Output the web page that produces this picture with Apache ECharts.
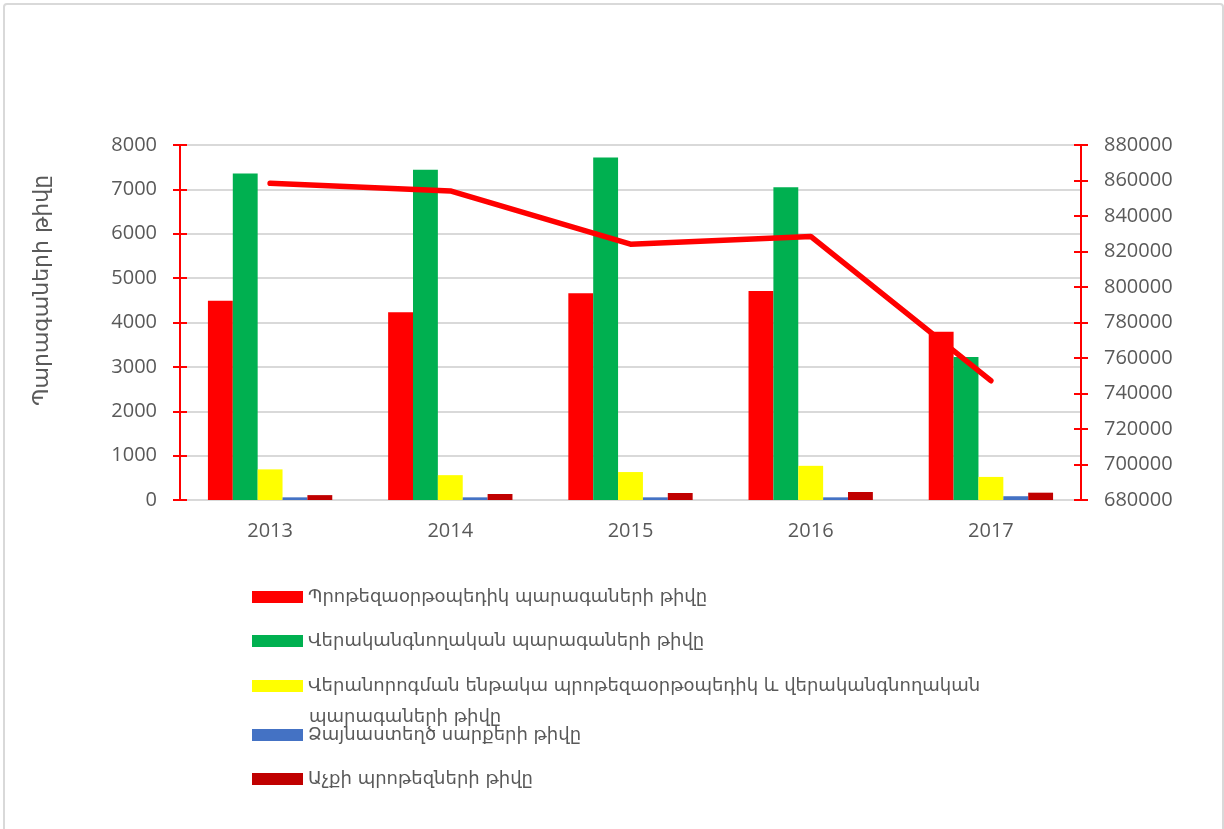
<!DOCTYPE html>
<html>
<head>
<meta charset="utf-8">
<style type="text/css">
    html, body{
        margin:0;
        padding:0;
        background:#fff;
    }
    #chart{
        width:1224px;
        height:829px;
    }
</style>
<script src="https://cdn.jsdelivr.net/npm/echarts@6/dist/echarts.min.js"></script>
</head>
<body>
<div id="chart"></div>
<script type="text/javascript">
    // տարիներ
    var years = ['2013', '2014', '2015', '2016', '2017'];
    var seriesNames = [
        'Պրոթեզաօրթօպեդիկ պարագաների թիվը',
        'Վերականգնողական պարագաների թիվը',
        'Վերանորոգման ենթակա պրոթեզաօրթօպեդիկ և վերականգնողական պարագաների թիվը',
        'Ձայնաստեղծ սարքերի թիվը',
        'Աչքի պրոթեզների թիվը'
    ];
    var prostheticValues = [4490, 4230, 4660, 4710, 3790];
    var rehabValues = [7360, 7440, 7720, 7050, 3220];
    var repairValues = [690, 560, 630, 770, 520];
    var soundValues = [60, 60, 60, 60, 85];
    var eyeValues = [110, 135, 158, 180, 165];
    var lineValues = [858400, 854100, 824100, 828500, 747200];

    var barColors = ['#FF0000', '#00B050', '#FFFF00', '#4472C4', '#C00000'];
    var barData = [prostheticValues, rehabValues, repairValues, soundValues, eyeValues];
    var legendTops = [587, 631, 676, 725, 769];

    var gray = '#595959';
    var numFont = 'Open Sans';
    var textFont = 'DejaVu Sans';

    var chart = echarts.init(document.getElementById('chart'), null, {renderer: 'canvas'});

    var plain = function (v) { return String(v); };

    var series = [];
    var legends = [];
    for (var i = 0; i < seriesNames.length; i++) {
        series.push({
            name: seriesNames[i],
            type: 'bar',
            yAxisIndex: 0,
            barGap: '0%',
            barCategoryGap: '31%',
            itemStyle: {color: barColors[i]},
            data: barData[i]
        });
        legends.push({
            data: [seriesNames[i]],
            orient: 'vertical',
            left: 252,
            top: legendTops[i],
            padding: 0,
            itemWidth: 51,
            itemHeight: 12,
            itemGap: 6,
            icon: 'rect',
            selectedMode: false,
            formatter: function (name) {
                // 3-րդ տողը կտրվում է
                if (name === seriesNames[2]) {
                    return 'Վերանորոգման ենթակա պրոթեզաօրթօպեդիկ և վերականգնողական';
                }
                return name;
            },
            textStyle: {
                color: gray,
                fontFamily: textFont,
                fontSize: 18,
                lineHeight: 20
            }
        });
    }
    series.push({
        name: 'total',
        type: 'line',
        yAxisIndex: 1,
        symbol: 'none',
        z: 5,
        lineStyle: {color: '#FF0000', width: 5.5, cap: 'round', join: 'round'},
        data: lineValues
    });

    var option = {
        backgroundColor: '#fff',
        animation: false,
        legend: legends,
        grid: {
            left: 180,
            right: 143,
            top: 145,
            bottom: 329
        },
        graphic: [
            {
                type: 'rect',
                shape: {x: 4, y: 4, width: 1219, height: 840, r: 3},
                style: {fill: 'none', stroke: '#D9D9D9', lineWidth: 2},
                silent: true
            },
            {
                type: 'text',
                left: 309,
                top: 708,
                style: {
                    text: 'պարագաների թիվը',
                    fill: gray,
                    font: '18px "DejaVu Sans"'
                },
                silent: true
            }
        ],
        xAxis: {
            type: 'category',
            data: years,
            axisLine: {lineStyle: {color: '#D9D9D9', width: 2}},
            axisTick: {show: false},
            axisLabel: {
                color: gray,
                fontFamily: numFont,
                fontSize: 20,
                margin: 21
            }
        },
        yAxis: [
            {
                type: 'value',
                min: 0,
                max: 8000,
                interval: 1000,
                position: 'left',
                name: 'Պարագաների թիվը',
                nameLocation: 'middle',
                nameGap: 127,
                nameTextStyle: {
                    color: gray,
                    fontFamily: textFont,
                    fontSize: 22,
                    padding: [0, 0, 0, 64]
                },
                axisLine: {show: true, lineStyle: {color: '#FF0000', width: 2}},
                axisTick: {show: true, length: 7, lineStyle: {color: '#FF0000', width: 2}},
                axisLabel: {
                    color: gray,
                    fontFamily: numFont,
                    fontSize: 20,
                    margin: 23,
                    formatter: plain
                },
                splitLine: {lineStyle: {color: '#D9D9D9', width: 2}}
            },
            {
                type: 'value',
                min: 680000,
                max: 880000,
                interval: 20000,
                position: 'right',
                axisLine: {show: true, lineStyle: {color: '#FF0000', width: 2}},
                axisTick: {show: true, length: 7, lineStyle: {color: '#FF0000', width: 2}},
                axisLabel: {
                    color: gray,
                    fontFamily: numFont,
                    fontSize: 20,
                    margin: 23,
                    formatter: plain
                },
                splitLine: {show: false}
            },
            // ներսի նշագծեր (ձախ)
            {
                type: 'value',
                min: 0,
                max: 8000,
                interval: 1000,
                position: 'left',
                axisLine: {show: false},
                axisTick: {show: true, inside: true, length: 7, lineStyle: {color: '#FF0000', width: 2}},
                axisLabel: {show: false},
                splitLine: {show: false}
            },
            // ներսի նշագծեր (աջ)
            {
                type: 'value',
                min: 680000,
                max: 880000,
                interval: 20000,
                position: 'right',
                axisLine: {show: false},
                axisTick: {show: true, inside: true, length: 7, lineStyle: {color: '#FF0000', width: 2}},
                axisLabel: {show: false},
                splitLine: {show: false}
            }
        ],
        series: series
    };
    chart.setOption(option);
    window.onresize = chart.resize;
</script>
</body>
</html>
